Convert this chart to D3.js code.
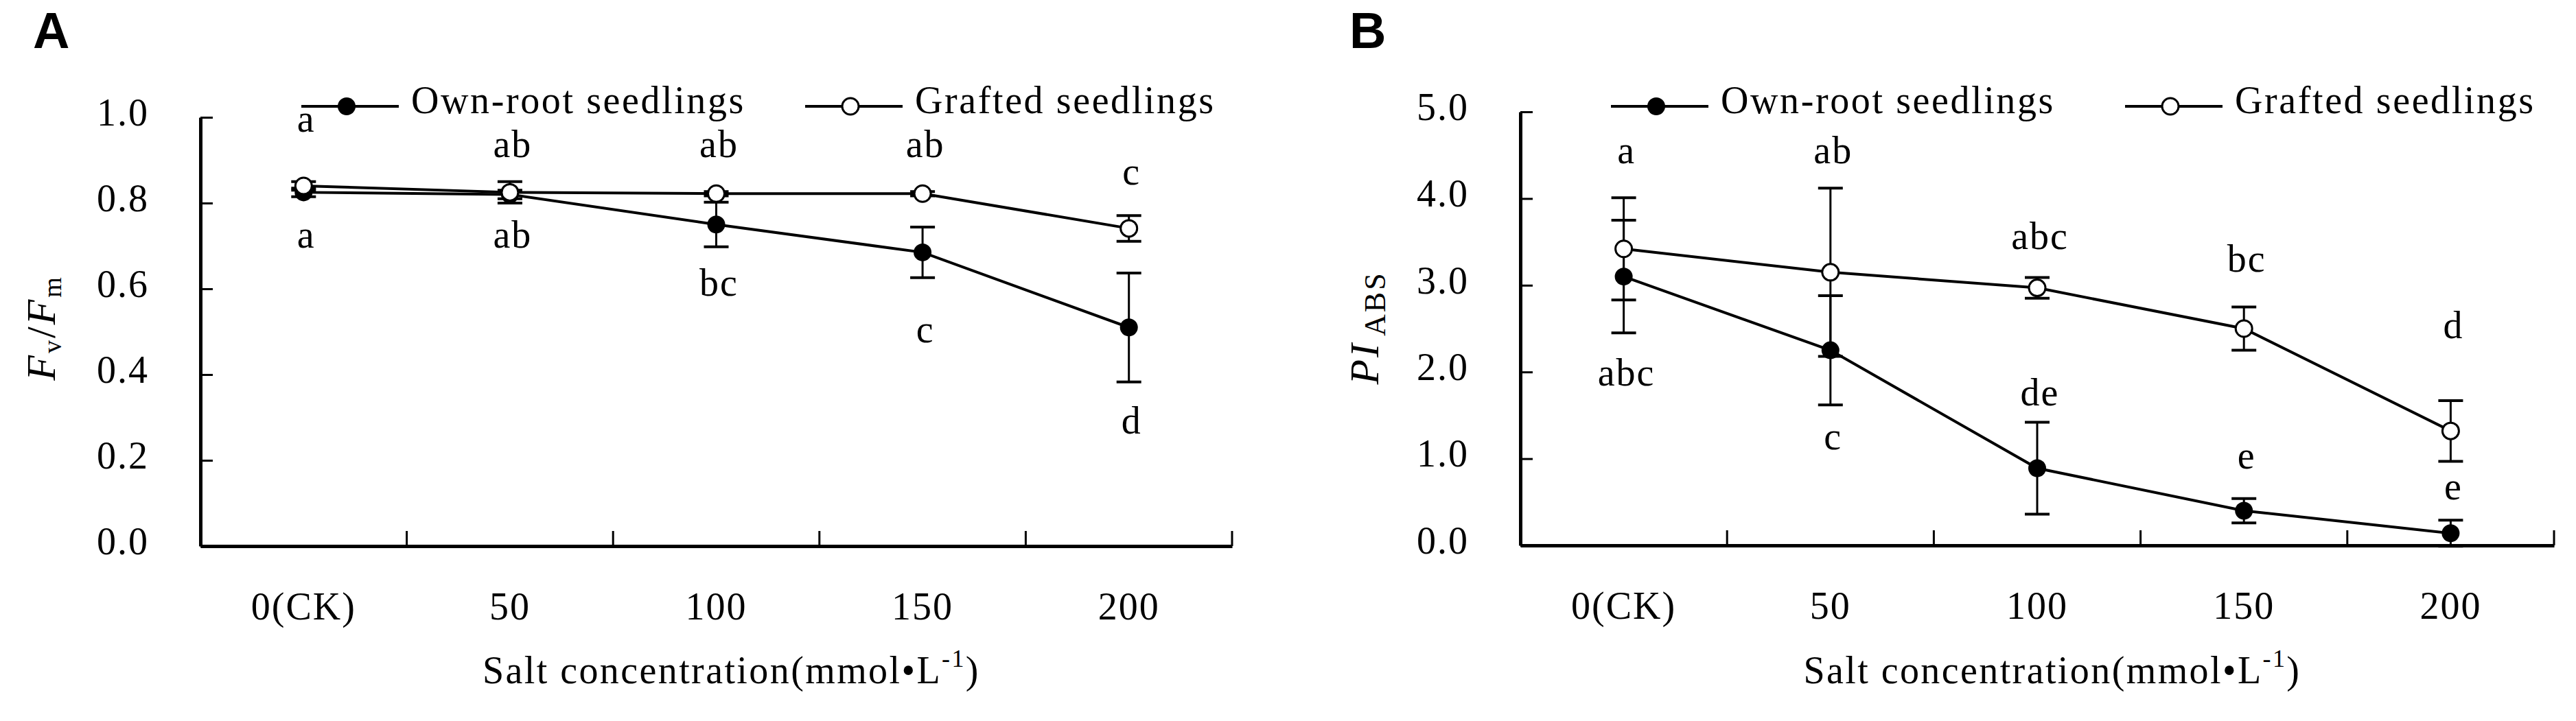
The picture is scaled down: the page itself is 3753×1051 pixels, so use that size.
<!DOCTYPE html>
<html>
<head>
<meta charset="utf-8">
<script src="https://cdn.jsdelivr.net/npm/d3@7"></script>
<style>
  body { margin: 0; background: #fff; }
  text { font-family: "Liberation Serif", "Times New Roman", serif; fill: #000; }
  .tick text, .lbl { font-size: 56px; letter-spacing: 2px; }
  .panel { font-family: "Liberation Sans", Arial, sans-serif; font-weight: bold; font-size: 74px; }
</style>
</head>
<body>
<div class="chart"></div>
<script>
var width = 3753,
height = 1051;

// categories on x
var categories = ["0(CK)", "50", "100", "150", "200"];
var seriesNames = ["Own-root seedlings", "Grafted seedlings"];

// panel A: Fv/Fm
var fvfmTicks = [0, 0.2, 0.4, 0.6, 0.8, 1.0];
var fvfmOwn = [0.825, 0.82, 0.75, 0.685, 0.51];
var fvfmOwnErr = [0.01, 0.01, 0.052, 0.059, 0.127];
var fvfmGraft = [0.84, 0.825, 0.822, 0.822, 0.741];
var fvfmGraftErr = [0.01, 0.025, 0.005, 0.005, 0.03];
var fvfmGraftLetters = ["a", "ab", "ab", "ab", "c"];
var fvfmGraftLetterAt = [0.966, 0.907, 0.907, 0.907, 0.843];
var fvfmOwnLetters = ["a", "ab", "bc", "c", "d"];
var fvfmOwnLetterAt = [0.696, 0.696, 0.584, 0.475, 0.262];

// panel B: PI ABS
var piTicks = [0, 1, 2, 3, 4, 5];
var piOwn = [3.1, 2.25, 0.89, 0.40, 0.14];
var piOwnErr = [0.65, 0.63, 0.53, 0.14, 0.15];
var piGraft = [3.42, 3.15, 2.97, 2.50, 1.32];
var piGraftErr = [0.59, 0.97, 0.12, 0.25, 0.35];
var piGraftLetters = ["a", "ab", "abc", "bc", "d"];
var piGraftLetterAt = [4.41, 4.41, 3.42, 3.16, 2.39];
var piOwnLetters = ["abc", "c", "de", "e", "e"];
var piOwnLetterAt = [1.84, 1.11, 1.61, 0.89, 0.53];

var svg = d3.select(".chart")
  .append("svg")
  .attr("width", width)
  .attr("height", height);

function drawPanel(p) {
  var x = d3.scaleBand().domain(categories).range([p.left, p.right]).padding(0);
  var y = d3.scaleLinear().domain([0, p.max]).range([p.bottom, p.top]);
  var bw = x.bandwidth();
  var cx = function(i) { return x(categories[i]) + bw / 2; };
  var g = svg.append("g");

  // x axis: labels at band centres, ticks at band edges
  var xAxis = g.append("g")
    .attr("transform", "translate(0," + p.bottom + ")")
    .call(d3.axisBottom(x).tickSize(0).tickSizeOuter(0).tickPadding(67));
  xAxis.select(".domain").attr("stroke", "#000").attr("stroke-width", 5);
  var edges = categories.map(function(c) { return x(c); }).concat([p.right]);
  xAxis.selectAll("line.edge")
    .data(edges.slice(1))
    .enter().append("line").attr("class", "edge")
    .attr("x1", function(d) { return d; })
    .attr("x2", function(d) { return d; })
    .attr("y1", 0).attr("y2", -22)
    .attr("stroke", "#000").attr("stroke-width", 3);

  // y axis, ticks inward
  var yAxis = g.append("g")
    .attr("transform", "translate(" + p.left + ",0)")
    .call(d3.axisLeft(y).tickValues(p.ticks).tickFormat(d3.format(".1f"))
      .tickSizeInner(-18).tickSizeOuter(0).tickPadding(75));
  yAxis.select(".domain").attr("stroke", "#000").attr("stroke-width", 5);
  yAxis.selectAll(".tick line").attr("stroke", "#000").attr("stroke-width", 3);
  yAxis.selectAll(".tick text").attr("dy", "0.2em");

  var line = d3.line()
    .x(function(d, i) { return cx(i); })
    .y(function(d) { return y(d); });

  [p.graft, p.own].forEach(function(vals) {
    g.append("path")
      .attr("d", line(vals))
      .attr("fill", "none")
      .attr("stroke", "#000")
      .attr("stroke-width", 4);
  });

  // error bars
  [[p.graft, p.graftErr], [p.own, p.ownErr]].forEach(function(s) {
    var eb = g.append("g").selectAll("g")
      .data(s[0])
      .enter().append("g");
    eb.append("line")
      .attr("x1", function(d, i) { return cx(i); })
      .attr("x2", function(d, i) { return cx(i); })
      .attr("y1", function(d, i) { return y(d + s[1][i]); })
      .attr("y2", function(d, i) { return y(d - s[1][i]); })
      .attr("stroke", "#000").attr("stroke-width", 3);
    [1, -1].forEach(function(sign) {
      eb.append("line")
        .attr("x1", function(d, i) { return cx(i) - 18; })
        .attr("x2", function(d, i) { return cx(i) + 18; })
        .attr("y1", function(d, i) { return y(d + sign * s[1][i]); })
        .attr("y2", function(d, i) { return y(d + sign * s[1][i]); })
        .attr("stroke", "#000").attr("stroke-width", 4);
    });
  });

  g.append("g").selectAll("circle")
    .data(p.own)
    .enter().append("circle")
    .attr("cx", function(d, i) { return cx(i); })
    .attr("cy", function(d) { return y(d); })
    .attr("r", 13)
    .attr("fill", "#000");

  g.append("g").selectAll("circle")
    .data(p.graft)
    .enter().append("circle")
    .attr("cx", function(d, i) { return cx(i); })
    .attr("cy", function(d) { return y(d); })
    .attr("r", 12)
    .attr("fill", "#fff")
    .attr("stroke", "#000")
    .attr("stroke-width", 3);

  // significance letters
  [[p.graftLetters, p.graftLetterAt], [p.ownLetters, p.ownLetterAt]].forEach(function(s) {
    g.append("g").selectAll("text")
      .data(s[0])
      .enter().append("text").attr("class", "lbl")
      .attr("x", function(d, i) { return cx(i) + 4; })
      .attr("y", function(d, i) { return y(s[1][i]); })
      .attr("text-anchor", "middle")
      .text(function(d) { return d; });
  });

  // legend
  var ly = 155;
  var leg = [
    {x0: p.left + p.legend1, filled: true, name: seriesNames[0]},
    {x0: p.left + 881, filled: false, name: seriesNames[1]}
  ];
  leg.forEach(function(l) {
    g.append("line")
      .attr("x1", l.x0).attr("x2", l.x0 + 142)
      .attr("y1", ly).attr("y2", ly)
      .attr("stroke", "#000").attr("stroke-width", 4);
    g.append("circle")
      .attr("cx", l.x0 + 66).attr("cy", ly)
      .attr("r", l.filled ? 13 : 12)
      .attr("fill", l.filled ? "#000" : "#fff")
      .attr("stroke", "#000").attr("stroke-width", l.filled ? 0 : 3);
    g.append("text").attr("class", "lbl")
      .attr("x", l.x0 + 160).attr("y", ly + 10)
      .style("letter-spacing", "2.6px")
      .text(l.name);
  });

  // x title
  var xt = g.append("text").attr("class", "lbl")
    .attr("x", (p.left + p.right) / 2 + 22)
    .attr("y", 996)
    .attr("text-anchor", "middle")
    .style("letter-spacing", "2.4px");
  xt.append("tspan").text("Salt concentration(mmol\u2022L");
  xt.append("tspan").attr("dy", -24).style("font-size", "36px").text("-1");
  xt.append("tspan").attr("dy", 24).text(")");

  // y title
  var yt = g.append("text")
    .attr("transform", "translate(" + p.ytX + ",478) rotate(-90)")
    .attr("text-anchor", "middle")
    .style("font-size", "60px")
    .style("letter-spacing", "3px");
  p.yTitle(yt);

  g.append("text").attr("class", "panel")
    .attr("x", p.tagX).attr("y", 70)
    .text(p.tag);
}

drawPanel({
  tag: "A", tagX: 48,
  left: 292, right: 1795, top: 171, bottom: 796, max: 1.0,
  ticks: fvfmTicks,
  own: fvfmOwn, ownErr: fvfmOwnErr, graft: fvfmGraft, graftErr: fvfmGraftErr,
  ownLetters: fvfmOwnLetters, ownLetterAt: fvfmOwnLetterAt,
  graftLetters: fvfmGraftLetters, graftLetterAt: fvfmGraftLetterAt,
  legend1: 147, ytX: 80,
  yTitle: function(t) {
    t.append("tspan").style("font-style", "italic").text("F");
    t.append("tspan").attr("dy", 9).style("font-size", "38px").text("v");
    t.append("tspan").attr("dy", -9).text("/");
    t.append("tspan").style("font-style", "italic").text("F");
    t.append("tspan").attr("dy", 9).style("font-size", "38px").text("m");
  }
});

drawPanel({
  tag: "B", tagX: 1966,
  left: 2215, right: 3721, top: 163, bottom: 795, max: 5,
  ticks: piTicks,
  own: piOwn, ownErr: piOwnErr, graft: piGraft, graftErr: piGraftErr,
  ownLetters: piOwnLetters, ownLetterAt: piOwnLetterAt,
  graftLetters: piGraftLetters, graftLetterAt: piGraftLetterAt,
  legend1: 132, ytX: 2008,
  yTitle: function(t) {
    t.append("tspan").style("font-style", "italic").text("PI");
    t.append("tspan").attr("dx", 8).attr("dy", 10).style("font-size", "44px").text("ABS");
  }
});
</script>
</body>
</html>
